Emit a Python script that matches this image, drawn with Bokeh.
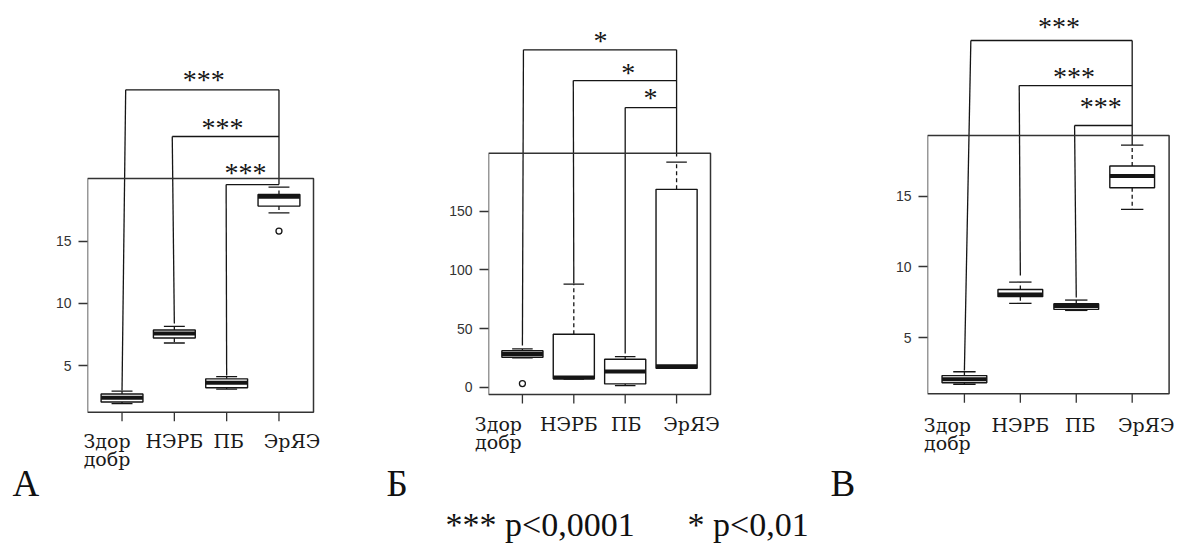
from bokeh.plotting import figure
from bokeh.layouts import column, row
from bokeh.models import Range1d, FixedTicker
from bokeh.embed import file_html
from bokeh.resources import INLINE
from bokeh.core.properties import value

# ---------------- data ----------------
categories = ["Здор\nдобр", "НЭРБ", "ПБ", "ЭрЯЭ"]

# Panel А
a_whisk_lo = [1.98, 6.83, 3.14, 17.26]
a_q1 = [2.10, 7.23, 3.24, 17.80]
a_median = [2.45, 7.60, 3.64, 18.55]
a_q3 = [2.75, 7.87, 3.96, 18.73]
a_whisk_hi = [2.97, 8.16, 4.14, 19.32]
a_out_cat = [4]
a_out_val = [15.8]
a_yticks = [5, 10, 15]
a_sig = ["***", "***", "***"]
a_br_level = [27.12, 23.38, 19.53]
a_br_leg_bottom = [3.03, 8.40, 4.23]
a_br_left_top = [1.07, 1.96, 2.99]
a_br_right_bottom = 19.53
a_star_x = [2.56, 2.92, 3.36]
a_star_y = [28.27, 24.45, 20.82]

# Panel Б
b_whisk_lo = [25.0, 7.0, 1.4, 16.0]
b_q1 = [25.5, 7.1, 2.8, 16.2]
b_median = [28.3, 8.2, 13.3, 17.8]
b_q3 = [31.1, 45.1, 23.8, 168.6]
b_whisk_hi = [32.6, 87.8, 26.0, 191.8]
b_out_cat = [1]
b_out_val = [3.1]
b_yticks = [0, 50, 100, 150]
b_sig = ["*", "*", "*"]
b_br_level = [287.5, 261.3, 238.3]
b_br_leg_bottom = [35.6, 88.4, 28.7]
b_br_left_top = [1.02, 1.99, 3.0]
b_br_right_bottom = 196.6
b_star_x = [2.52, 3.06, 3.49]
b_star_y = [299.7, 272.4, 250.3]

# Panel В
c_whisk_lo = [1.72, 7.43, 6.93, 14.06]
c_q1 = [1.82, 7.90, 7.00, 15.59]
c_median = [2.08, 8.06, 7.24, 16.41]
c_q3 = [2.33, 8.41, 7.40, 17.12]
c_whisk_hi = [2.60, 8.93, 7.66, 18.60]
c_out_cat = []
c_out_val = []
c_yticks = [5, 10, 15]
c_sig = ["***", "***", "***"]
c_br_level = [25.98, 22.80, 19.98]
c_br_leg_bottom = [2.69, 9.39, 7.84]
c_br_left_top = [1.115, 1.98, 2.97]
c_br_right_bottom = 18.60
c_star_x = [2.69, 2.96, 3.44]
c_star_y = [27.27, 23.74, 21.62]

panel_letters = ["А", "Б", "В"]
footnote = ["*** p<0,0001", "* p<0,01"]

# ---------------- style / layout ----------------
INK = "#151515"
SERIF = "Liberation Serif"
LABEL_FONT = "DejaVu Serif"
SANS = "Liberation Sans"
ROW_H = 503      # panels occupy 0..503 px
FOOT_H = 47      # footnote strip below
LETTER_Y = 482.5  # centre of panel letters (page px)


def blank(fig):
    fig.outline_line_color = None
    fig.grid.visible = False
    fig.background_fill_color = "white"
    fig.border_fill_color = "white"


def make_panel(wl, q1, med, q3, wh, out_cat, out_val, yticks, sig,
               br_level, br_leg_bottom, br_left_top, br_right_bottom,
               star_x, star_y, letter, fig_w, border_left, frame_w, box_w,
               box_top, box_bot, main_h, label_dx, label_dy, letter_x):
    n = len(categories)
    xs = list(range(1, n + 1))
    x0, x1 = 0.5 - 0.04 * n, n + 0.5 + 0.04 * n
    lo = min(wl + out_val)
    hi = max(wh + out_val)
    pad = 0.04 * (hi - lo)
    y0, y1 = lo - pad, hi + pad
    ppu_x = box_w / (x1 - x0)
    ppu_y = (box_bot - box_top) / (y1 - y0)
    xr = Range1d(x0, x0 + frame_w / ppu_x)
    yr = Range1d(y0 - (main_h - box_bot) / ppu_y, y1 + box_top / ppu_y)

    p = figure(width=fig_w, height=main_h, x_range=xr, y_range=yr,
               output_backend="svg", toolbar_location=None,
               x_axis_location=None, y_axis_location="left",
               min_border_left=border_left,
               min_border_right=fig_w - border_left - frame_w,
               min_border_top=0, min_border_bottom=0)
    blank(p)

    ax = p.yaxis[0]
    ax.ticker = FixedTicker(ticks=yticks)
    ax.axis_line_color = None
    ax.major_tick_out = 9
    ax.major_tick_in = 0
    ax.minor_tick_line_color = None
    ax.major_tick_line_color = "#333333"
    ax.major_tick_line_width = 1.3
    ax.major_label_text_font = SANS
    ax.major_label_text_font_size = "14px"
    ax.major_label_text_color = "#333333"
    ax.major_label_standoff = 7

    # significance brackets
    k = len(br_level)
    p.segment(x0=br_left_top, y0=br_level, x1=xs[:k], y1=br_leg_bottom,
              line_color=INK, line_width=1.3)
    p.segment(x0=br_left_top, y0=br_level, x1=[n] * k, y1=br_level,
              line_color=INK, line_width=1.3)
    p.segment(x0=[n], y0=[max(br_level)], x1=[n], y1=[br_right_bottom],
              line_color=INK, line_width=1.3)
    p.text(x=star_x, y=[v - 4.5 / ppu_y for v in star_y], text=sig,
           text_font=value(SERIF), text_font_size="28px",
           text_align="center", text_baseline="middle", text_color=INK)

    # plot box
    p.quad(left=[x0], right=[x1], bottom=[y0], top=[y1], fill_color=None,
           line_color="#333333", line_width=1.5)
    # x ticks
    p.segment(x0=xs, y0=[y0] * n, x1=xs, y1=[y0 - 9 / ppu_y] * n,
              line_color="#333333", line_width=1.3)

    # whiskers (dashed), staples, boxes, medians
    p.segment(x0=xs, y0=q3, x1=xs, y1=wh, line_color=INK, line_width=1.3,
              line_dash="4 3")
    p.segment(x0=xs, y0=q1, x1=xs, y1=wl, line_color=INK, line_width=1.3,
              line_dash="4 3")
    p.segment(x0=[x - 0.2 for x in xs], y0=wh, x1=[x + 0.2 for x in xs],
              y1=wh, line_color=INK, line_width=1.3)
    p.segment(x0=[x - 0.2 for x in xs], y0=wl, x1=[x + 0.2 for x in xs],
              y1=wl, line_color=INK, line_width=1.3)
    p.quad(left=[x - 0.4 for x in xs], right=[x + 0.4 for x in xs],
           bottom=q1, top=q3, fill_color="white", line_color=INK,
           line_width=1.4)
    p.segment(x0=[x - 0.4 for x in xs], y0=med, x1=[x + 0.4 for x in xs],
              y1=med, line_color=INK, line_width=4)
    if out_cat:
        p.scatter(x=out_cat, y=out_val, marker="circle", size=6,
                  fill_color="white", line_color=INK, line_width=1.3)

    # label strip under the box: same x scale, pixel y (top = 0)
    lab_h = ROW_H - main_h
    lx0 = x0 - border_left / ppu_x
    q = figure(width=fig_w, height=lab_h,
               x_range=Range1d(lx0, lx0 + fig_w / ppu_x),
               y_range=Range1d(lab_h, 0), output_backend="svg",
               toolbar_location=None, x_axis_location=None,
               y_axis_location=None, min_border=0, min_border_left=0,
               min_border_right=0, min_border_top=0, min_border_bottom=0)
    blank(q)
    lx, ly, lt = [], [], []
    for i, cat in enumerate(categories):
        for j, line in enumerate(cat.split("\n")):
            lx.append(xs[i] + label_dx[i] / ppu_x)
            ly.append(box_bot - main_h + label_dy + 18.5 * j)
            lt.append(line)
    q.text(x=lx, y=ly, text=lt, text_font=value(LABEL_FONT),
           text_font_size="19px", text_align="center",
           text_baseline="middle", text_color="#1a1a1a")
    q.text(x=[lx0 + letter_x / ppu_x], y=[LETTER_Y - main_h], text=[letter],
           text_font=value(SERIF), text_font_size="37px", text_align="left",
           text_baseline="middle", text_color="#111111")
    # wrap the strip so that its frame is not aligned with the panel's frame
    return column(p, row(q))


pa = make_panel(a_whisk_lo, a_q1, a_median, a_q3, a_whisk_hi, a_out_cat,
                a_out_val, a_yticks, a_sig, a_br_level, a_br_leg_bottom,
                a_br_left_top, a_br_right_bottom, a_star_x, a_star_y,
                panel_letters[0],
                fig_w=380, border_left=87, frame_w=258, box_w=226,
                box_top=178, box_bot=411.7, main_h=422,
                label_dx=[-15, 0, 2, 13], label_dy=28.3, letter_x=12)
pb = make_panel(b_whisk_lo, b_q1, b_median, b_q3, b_whisk_hi, b_out_cat,
                b_out_val, b_yticks, b_sig, b_br_level, b_br_leg_bottom,
                b_br_left_top, b_br_right_bottom, b_star_x, b_star_y,
                panel_letters[1],
                fig_w=435, border_left=108, frame_w=247, box_w=222,
                box_top=152.7, box_bot=394, main_h=404,
                label_dx=[-24, -5, 1, 15], label_dy=29, letter_x=6)
pc = make_panel(c_whisk_lo, c_q1, c_median, c_q3, c_whisk_hi, c_out_cat,
                c_out_val, c_yticks, c_sig, c_br_level, c_br_leg_bottom,
                c_br_left_top, c_br_right_bottom, c_star_x, c_star_y,
                panel_letters[2],
                fig_w=370, border_left=112, frame_w=258, box_w=241.6,
                box_top=135, box_bot=393.3, main_h=404,
                label_dx=[-17, 0, 4, 14], label_dy=31, letter_x=15)

# footnote strip (pixel coordinates)
W = 380 + 435 + 370
pf = figure(width=W, height=FOOT_H, x_range=Range1d(0, W),
            y_range=Range1d(FOOT_H, 0), output_backend="svg",
            toolbar_location=None, x_axis_location=None,
            y_axis_location=None, min_border=0)
blank(pf)
pf.text(x=[445, 687], y=[20.5, 20.5], text=footnote,
        text_font=value(SERIF), text_font_size="34px", text_align="left",
        text_baseline="middle", text_color="#111111")

layout = column(row(pa, pb, pc), pf)
open("out.html", "w").write(file_html(layout, INLINE))
